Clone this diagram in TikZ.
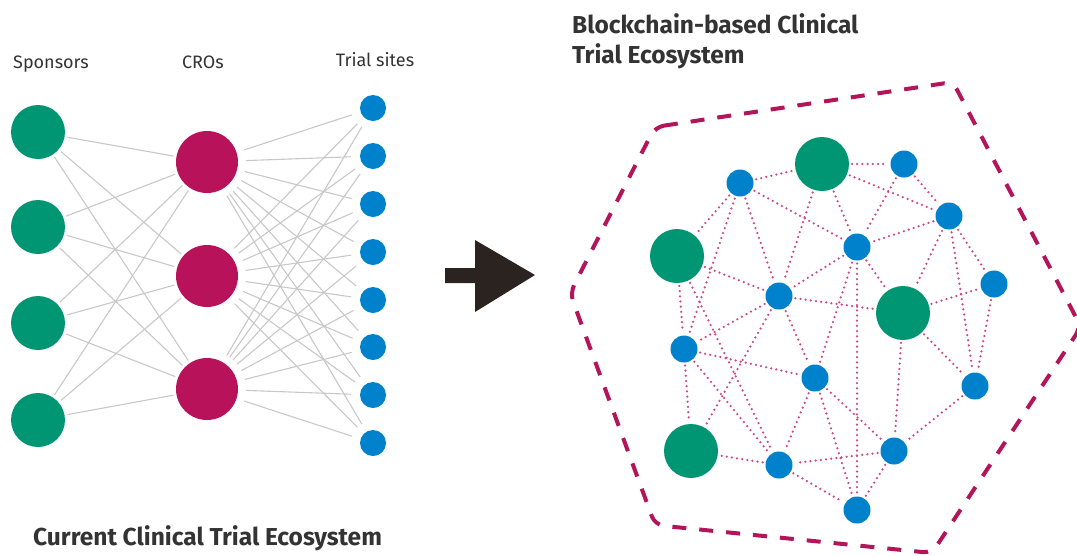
\documentclass[tikz,border=0pt]{standalone}
\usepackage{fontspec}
\setmainfont{Fira Sans}
\definecolor{sgreen}{HTML}{009673}
\definecolor{crocol}{HTML}{B8135A}
\definecolor{sitecol}{HTML}{0081CC}
\definecolor{edgegray}{HTML}{C8C8C8}
\definecolor{dotpink}{HTML}{CC4A88}
\definecolor{hexcol}{HTML}{B3155A}
\definecolor{arrowcol}{HTML}{2B231F}
\definecolor{txtcol}{HTML}{333333}
\tikzset{
  sponsor/.style={circle,fill=sgreen,minimum size=54pt,inner sep=0pt,outer sep=0pt},
  cronode/.style={circle,fill=crocol,minimum size=62pt,inner sep=0pt,outer sep=0pt},
  sitenode/.style={circle,fill=sitecol,minimum size=26pt,inner sep=0pt,outer sep=0pt},
  bignode/.style={circle,fill=sgreen,minimum size=54pt,inner sep=0pt,outer sep=0pt},
  smallnode/.style={circle,fill=sitecol,minimum size=27pt,inner sep=0pt,outer sep=0pt},
  grayedge/.style={draw=edgegray,line width=1.1pt},
  dotedge/.style={draw=dotpink,line width=2.5pt,line cap=round,dash pattern=on 0pt off 5.2pt,shorten <=3pt,shorten >=3pt},
  hexline/.style={draw=hexcol,line width=4pt,dash pattern=on 14pt off 13pt,rounded corners=9pt},
  lbl/.style={text=txtcol,font=\fontsize{18}{21}\selectfont,inner sep=0pt,anchor=base},
  ttl/.style={text=txtcol,font=\fontsize{24.5}{28}\selectfont\bfseries,inner sep=0pt,anchor=base west},
}
\begin{document}
\begin{tikzpicture}[x=1pt,y=-1pt]
\useasboundingbox (0,0) rectangle (1077,555);
% ---------- left network ----------
\node[sponsor] (s1) at (38,132) {};
\node[sponsor] (s2) at (38,227) {};
\node[sponsor] (s3) at (38,323) {};
\node[sponsor] (s4) at (38,420) {};
\node[cronode] (c1) at (207,162) {};
\node[cronode] (c2) at (207,276) {};
\node[cronode] (c3) at (207,389) {};
\foreach \i/\y in {1/108,2/156,3/204,4/252,5/300,6/347,7/395,8/443}
  \node[sitenode] (t\i) at (373,\y) {};
\foreach \i in {1,...,4}
  \foreach \j in {1,2,3}
    \draw[grayedge,shorten <=3pt,shorten >=3pt] (s\i) -- (c\j);
\foreach \j in {1,2,3}
  \foreach \k in {1,...,8}
    \draw[grayedge,shorten <=8pt,shorten >=9pt] (c\j) -- (t\k);
\node[lbl] (lsp) at (51,68) {Sponsors};
\node[lbl] (lcro) at (203,68) {CROs};
\node[lbl] (lts) at (375,66) {Trial sites};
\node[ttl] (lcur) at (33,545) {Current Clinical Trial Ecosystem};
% ---------- arrow ----------
\fill[arrowcol] (445,268) -- (475,268) -- (475,240) -- (535,275) -- (475,312) -- (475,283) -- (445,283) -- cycle;
% ---------- right network ----------
\draw[hexline] (655,127) -- (953,82) -- (1081,327) -- (932,553) -- (655,525) -- (570,293) -- cycle;
\node[bignode] (g1) at (822,164) {};
\node[bignode] (g2) at (677,256) {};
\node[bignode] (g3) at (903,313) {};
\node[bignode] (g4) at (691,451) {};
\node[smallnode] (b1) at (740,183) {};
\node[smallnode] (b2) at (904,164) {};
\node[smallnode] (b3) at (949,216) {};
\node[smallnode] (b4) at (857,247) {};
\node[smallnode] (b5) at (994,284) {};
\node[smallnode] (b6) at (779,296) {};
\node[smallnode] (b7) at (684,349) {};
\node[smallnode] (b8) at (815,378) {};
\node[smallnode] (b9) at (975,386) {};
\node[smallnode] (b10) at (894,451) {};
\node[smallnode] (b11) at (779,465) {};
\node[smallnode] (b12) at (857,510) {};
\foreach \a/\b in {b1/g1,b1/b4,b1/g2,b1/b7,b1/b6,
  g1/b2,g1/b3,g1/b4,g1/b6,
  b2/b3,b2/b4,
  b3/b4,b3/b5,b3/b9,b3/g3,
  b4/b6,b4/g3,b4/b12,b4/b8,
  g2/b6,g2/b7,g2/b11,
  b6/g3,b6/b7,b6/b8,b6/g4,
  b7/b8,b7/g4,b7/b11,
  g3/b5,g3/b9,g3/b10,
  b5/b9,
  b8/b10,b8/b11,b8/b12,
  b9/b10,
  b10/b11,b10/b12,
  b11/g4,b11/b12}
  \draw[dotedge] (\a) -- (\b);
\node[ttl] (lbc1) at (572,33) {Blockchain-based Clinical};
\node[ttl] (lbc2) at (572,63) {Trial Ecosystem};
\end{tikzpicture}
\end{document}
